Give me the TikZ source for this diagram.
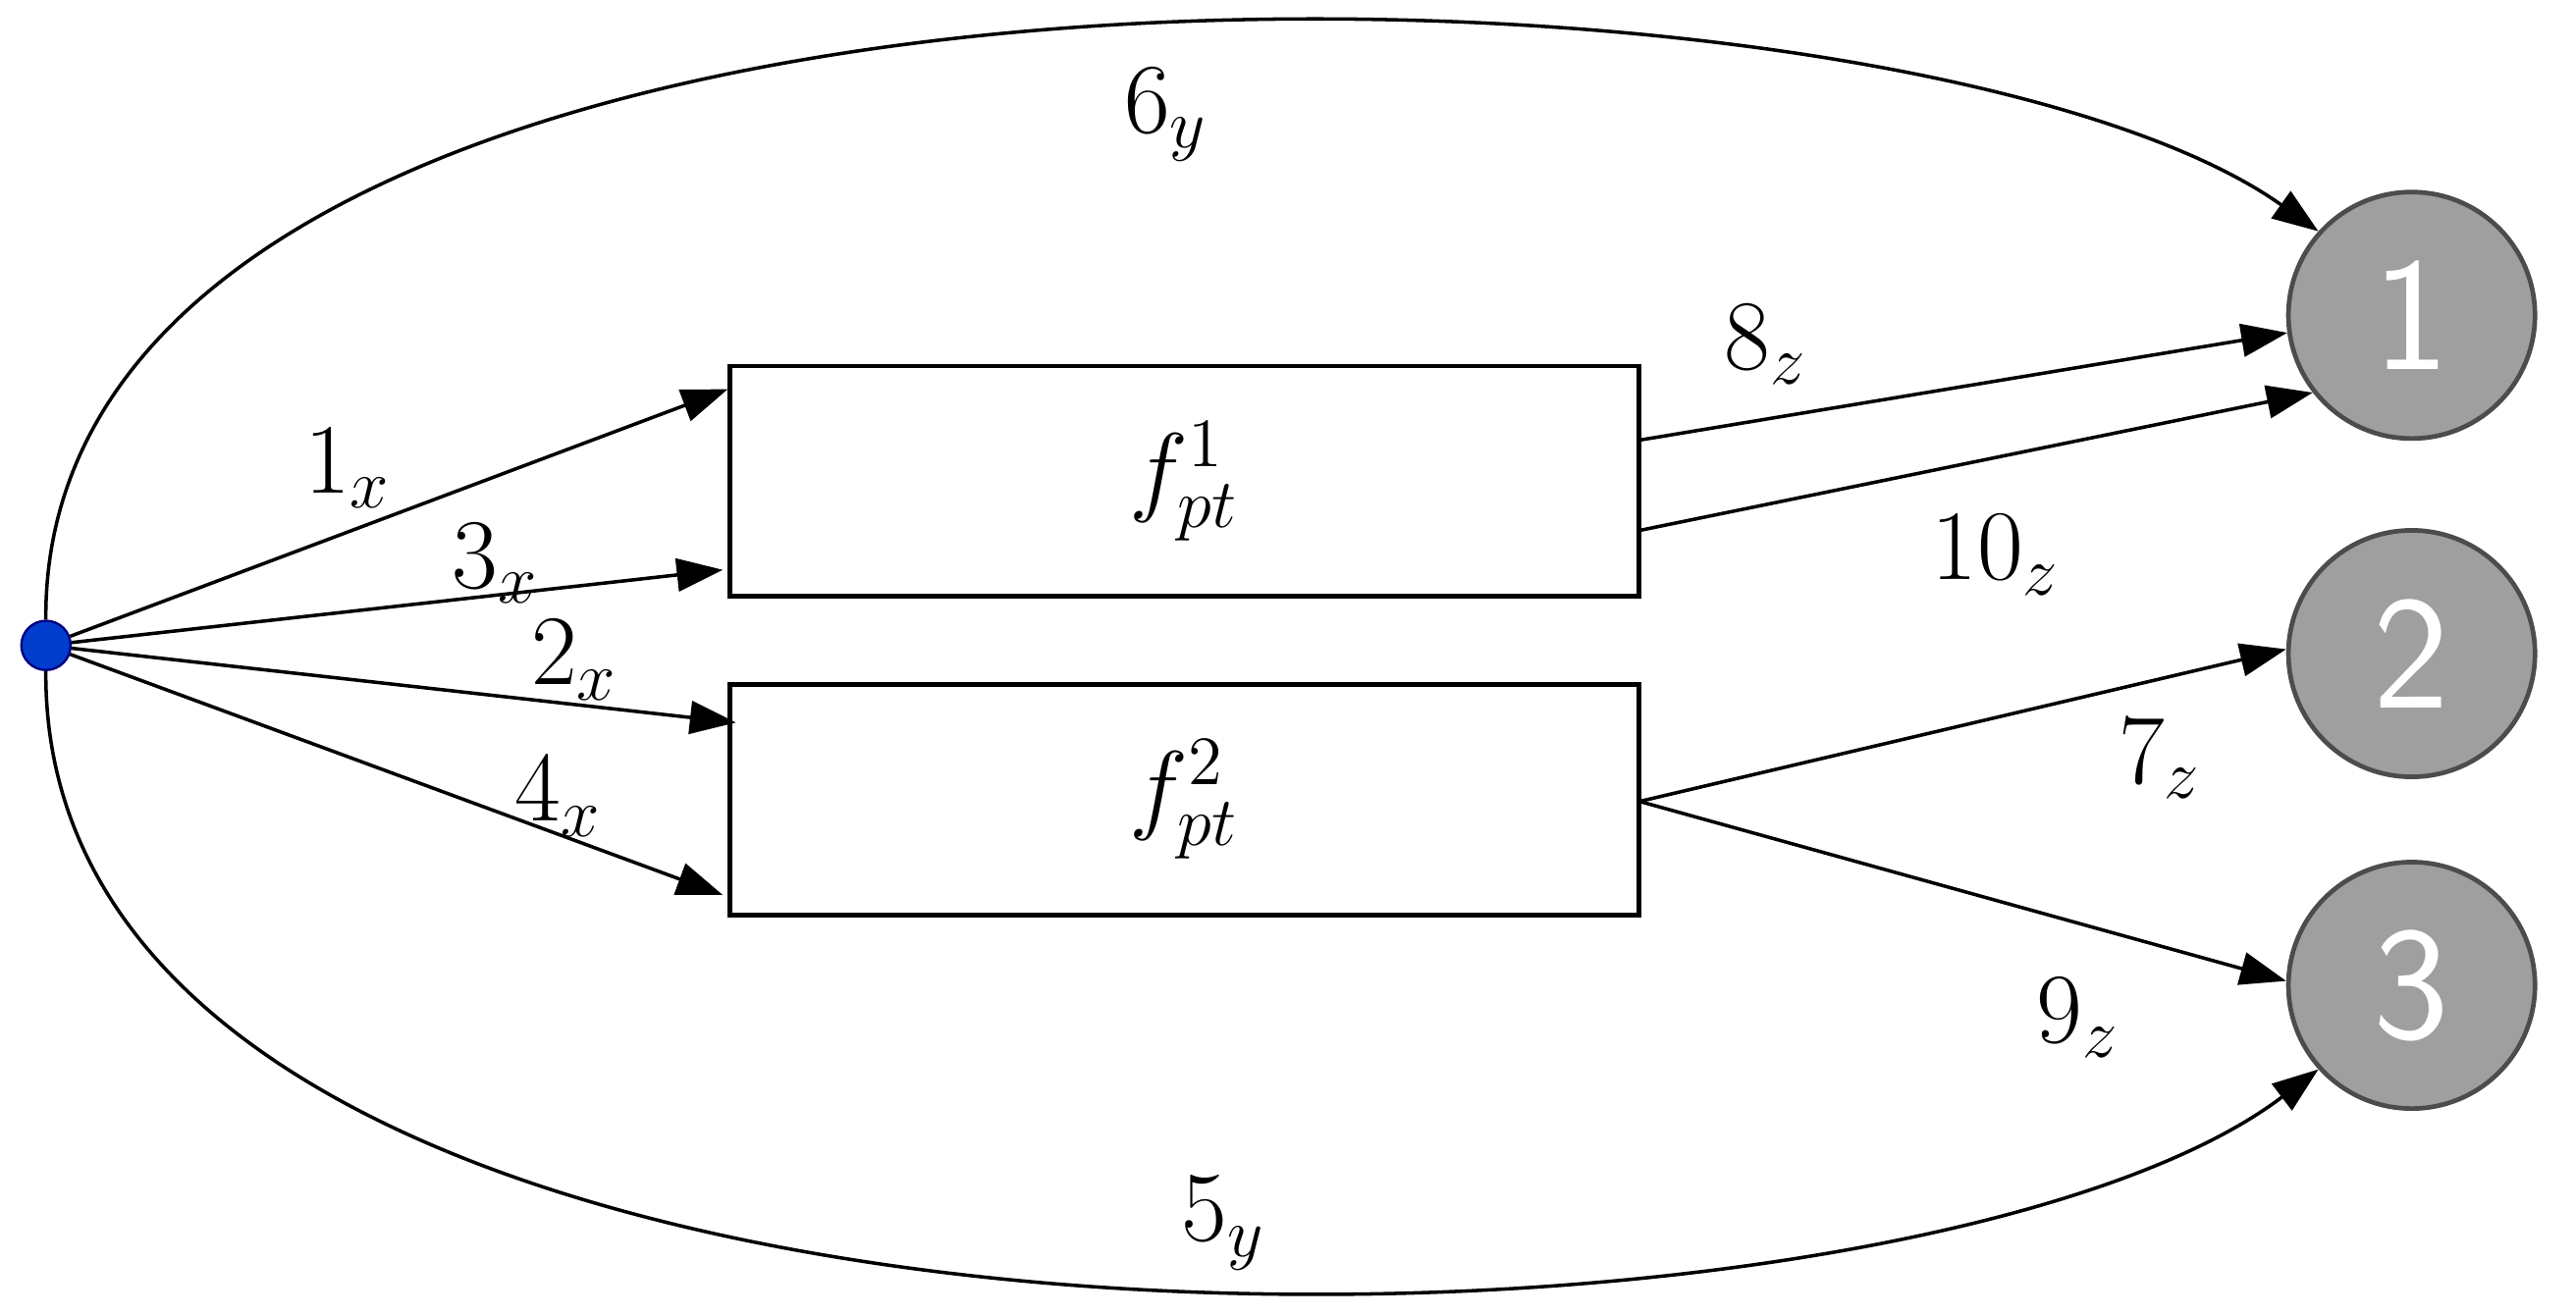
\documentclass[tikz,border=0pt]{standalone}
\usetikzlibrary{arrows.meta}
\begin{document}
\begin{tikzpicture}[
    x=0.01cm, y=-0.01cm,
    every node/.style={font=\fontsize{17}{20}\selectfont},
    func/.style={draw, thick, minimum width=5.53cm, minimum height=1.4cm, inner sep=0pt},
    target/.style={circle, fill=gray!75, draw=gray!60!black, thick, minimum size=1.5cm, inner sep=0pt, text=white, font=\fontsize{28}{30}\selectfont\sffamily},
    arrow/.style={-{Triangle[length=0.28cm, width=0.2cm]}, semithick},
    lab/.style={inner sep=1pt}
]
\useasboundingbox (0,0) rectangle (1568,801);

% source and function blocks
\node[circle, fill=blue!70!cyan!80!black, draw=blue!50!black, minimum size=0.3cm, inner sep=0pt] (S) at (28,393) {};
\node[func] (F1) at (721,293) {$f_{pt}^{1}$};
\node[func] (F2) at (721,487) {$f_{pt}^{2}$};

% targets
\node[target] (T1) at (1468,192) {1};
\node[target] (T2) at (1468,398) {2};
\node[target] (T3) at (1468,600) {3};

% inputs
\coordinate (i1) at (443,237);
\coordinate (i3) at (440,347);
\coordinate (i2) at (448,440);
\coordinate (i4) at (440,545);
\draw[arrow] (S) -- (i1);
\draw[arrow] (S) -- (i3);
\draw[arrow] (S) -- (i2);
\draw[arrow] (S) -- (i4);
\node[lab] (L1) at (212,285) {$1_x$};
\node[lab] (L3) at (302,343) {$3_x$};
\node[lab] (L2) at (350,402) {$2_x$};
\node[lab] (L4) at (340,485) {$4_x$};

% outputs
\coordinate (o8) at (998,268);
\coordinate (o10) at (998,323);
\coordinate (o7) at (998,488);
\draw[arrow] (o8) -- (T1.188);
\draw[arrow] (o10) -- (T1.218);
\draw[arrow] (o7) -- (T2.178);
\draw[arrow] (o7) -- (T3.178);
\node[lab] (L8) at (1075,210) {$8_z$};
\node[lab] (L10) at (1215,338) {$10_z$};
\node[lab] (L7) at (1315,462) {$7_z$};
\node[lab] (L9) at (1265,620) {$9_z$};

% direct paths
\draw[arrow] (S) .. controls (25,-70) and (1150,-45) .. (T1.138);
\draw[arrow] (S) .. controls (25,870) and (1150,850) .. (T3.222);
\node[lab] (L6) at (710,70) {$6_y$};
\node[lab] (L5) at (745,745) {$5_y$};
\end{tikzpicture}
\end{document}
